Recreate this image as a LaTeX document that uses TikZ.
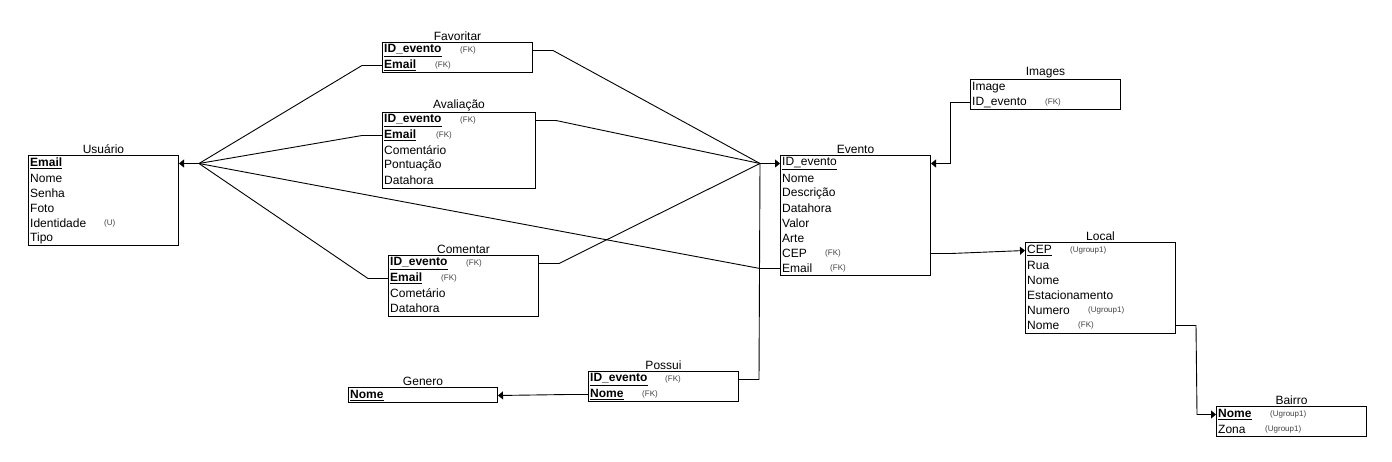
\documentclass[tikz,border=0pt]{standalone}
\usepackage{fontspec}
\setmainfont{Liberation Sans}
\usetikzlibrary{arrows.meta}
\newcommand{\pkb}[1]{\underline{\textbf{#1}}}
\newcommand{\pkn}[1]{\underline{#1}}
\begin{document}
\begin{tikzpicture}[x=1pt,y=-1pt,
  tbl/.style={draw, line width=1pt, anchor=north west, inner sep=0pt, minimum width=150pt},
  ttl/.style={anchor=south, inner sep=1pt, font=\fontsize{12}{14}\selectfont},
  row/.style={anchor=west, inner sep=0pt, yshift=-1pt, font=\fontsize{12}{14}\selectfont},
  tag/.style={anchor=west, inner sep=0pt, yshift=-1pt, font=\fontsize{8}{9}\selectfont, text=black!75},
  con/.style={line width=0.9pt},
  arr/.style={con, -{Triangle[length=5pt,width=8pt]}}]
\useasboundingbox (0,0) rectangle (1392,462);

% ---------- Usuario
\node[tbl, minimum height=90pt] (usu) at (28,155) {};
\node[ttl] at (usu.north) {Usuário};
\node[row] (usu1) at (30,162.5) {\pkb{Email}};
\node[row] (usu2) at (30,177.5) {Nome};
\node[row] (usu3) at (30,192.5) {Senha};
\node[row] (usu4) at (30,207.5) {Foto};
\node[row] (usu5) at (30,222.5) {Identidade};
\node[tag] at (104,222.5) {(U)};
\node[row] (usu6) at (30,237.5) {Tipo};

% ---------- Favoritar
\node[tbl, minimum height=30pt] (fav) at (382,42) {};
\node[ttl] at (fav.north) {Favoritar};
\node[row] (fav1) at (384,49.5) {\pkb{ID\_evento}};
\node[tag] at (460,49.5) {(FK)};
\node[row] (fav2) at (384,64.5) {\pkb{Email}};
\node[tag] at (435,64.5) {(FK)};

% ---------- Avaliacao
\node[tbl, minimum height=76pt, minimum width=153pt] (ava) at (382,112) {};
\node[ttl] at (ava.north) {Avaliação};
\node[row] (ava1) at (384,119.5) {\pkb{ID\_evento}};
\node[tag] at (460,119.5) {(FK)};
\node[row] (ava2) at (384,134.5) {\pkb{Email}};
\node[tag] at (436,134.5) {(FK)};
\node[row] (ava3) at (384,149.5) {Comentário};
\node[row] (ava4) at (384,164.5) {Pontuação};
\node[row] (ava5) at (384,179.5) {Datahora};

% ---------- Comentar
\node[tbl, minimum height=61pt] (com) at (388,255) {};
\node[ttl] at (com.north) {Comentar};
\node[row] (com1) at (390,262.5) {\pkb{ID\_evento}};
\node[tag] at (466,262.5) {(FK)};
\node[row] (com2) at (390,277.5) {\pkb{Email}};
\node[tag] at (441,277.5) {(FK)};
\node[row] (com3) at (390,292.5) {Cometário};
\node[row] (com4) at (390,307.5) {Datahora};

% ---------- Genero
\node[tbl, minimum height=15pt, minimum width=149pt] (gen) at (348,387) {};
\node[ttl] at (gen.north) {Genero};
\node[row] (gen1) at (350,394.5) {\pkb{Nome}};

% ---------- Possui
\node[tbl, minimum height=30pt] (pos) at (588,371) {};
\node[ttl] at (pos.north) {Possui};
\node[row] (pos1) at (590,378.5) {\pkb{ID\_evento}};
\node[tag] at (665,378.5) {(FK)};
\node[row] (pos2) at (590,393.5) {\pkb{Nome}};
\node[tag] at (642,393.5) {(FK)};

% ---------- Evento
\node[tbl, minimum height=120pt] (eve) at (780,155) {};
\node[ttl] at (eve.north) {Evento};
\node[row] (eve1) at (782,162.5) {\pkn{ID\_evento}};
\node[row] (eve2) at (782,177.5) {Nome};
\node[row] (eve3) at (782,192.5) {Descrição};
\node[row] (eve4) at (782,207.5) {Datahora};
\node[row] (eve5) at (782,222.5) {Valor};
\node[row] (eve6) at (782,237.5) {Arte};
\node[row] (eve7) at (782,252.5) {CEP};
\node[tag] at (825,252.5) {(FK)};
\node[row] (eve8) at (782,267.5) {Email};
\node[tag] at (830,267.5) {(FK)};

% ---------- Images
\node[tbl, minimum height=30pt] (img) at (970,79) {};
\node[ttl] at (img.north) {Images};
\node[row] (img1) at (972,86.5) {Image};
\node[row] (img2) at (972,101.5) {ID\_evento};
\node[tag] at (1045,101.5) {(FK)};

% ---------- Local
\node[tbl, minimum height=91pt] (loc) at (1025,242) {};
\node[ttl] at (loc.north) {Local};
\node[row] (loc1) at (1027,249.5) {\pkn{CEP}};
\node[tag] at (1070,249.5) {(Ugroup1)};
\node[row] (loc2) at (1027,264.5) {Rua};
\node[row] (loc3) at (1027,279.5) {Nome};
\node[row] (loc4) at (1027,294.5) {Estacionamento};
\node[row] (loc5) at (1027,309.5) {Numero};
\node[tag] at (1088,309.5) {(Ugroup1)};
\node[row] (loc6) at (1027,324.5) {Nome};
\node[tag] at (1078,324.5) {(FK)};

% ---------- Bairro
\node[tbl, minimum height=30pt] (bai) at (1216,406) {};
\node[ttl] at (bai.north) {Bairro};
\node[row] (bai1) at (1218,413.5) {\pkb{Nome}};
\node[tag] at (1270,413.5) {(Ugroup1)};
\node[row] (bai2) at (1218,428.5) {Zona};
\node[tag] at (1265,428.5) {(Ugroup1)};

% ---------- connectors to Usuario
\coordinate (uf) at ([xshift=20pt]usu.east |- usu1);
\draw[arr] (uf) -- (usu.east |- usu1);
\draw[con] (uf) -- ([xshift=-20pt]fav.west |- fav2) -- (fav.west |- fav2);
\draw[con] (uf) -- ([xshift=-20pt]ava.west |- ava2) -- (ava.west |- ava2);
\draw[con] (uf) -- ([xshift=-20pt]com.west |- com2) -- (com.west |- com2);
\draw[con] (uf) -- ([xshift=-20pt]eve.west |- eve8) -- (eve.west |- eve8);

% ---------- connectors to Evento
\coordinate (ef) at ([xshift=-20pt]eve.west |- eve1);
\draw[arr] (ef) -- (eve.west |- eve1);
\draw[con] (ef) -- ([xshift=20pt]fav.east |- fav1) -- (fav.east |- fav1);
\draw[con] (ef) -- ([xshift=20pt]ava.east |- ava1) -- (ava.east |- ava1);
\draw[con] (ef) -- ([xshift=20pt]com.east |- com1) -- (com.east |- com1);
\draw[con] (ef) -- ([xshift=20pt]pos.east |- pos1) -- (pos.east |- pos1);

% ---------- Images -> Evento
\draw[arr] (img.west |- img2) -- ([xshift=-20pt]img.west |- img2) |- (eve.east |- eve1);

% ---------- Evento -> Local
\draw[arr] (eve.east |- eve7) -- ([xshift=20pt]eve.east |- eve7) -- (loc.west |- loc1);

% ---------- Local -> Bairro
\draw[arr] (loc.east |- loc6) -- ([xshift=20pt]loc.east |- loc6) -- ([xshift=-19pt]bai.west |- bai1) -- (bai.west |- bai1);

% ---------- Possui -> Genero
\draw[arr] (pos.west |- pos2) -- ([xshift=-20pt]pos.west |- pos2) -- (gen.east |- gen1);
\end{tikzpicture}
\end{document}
